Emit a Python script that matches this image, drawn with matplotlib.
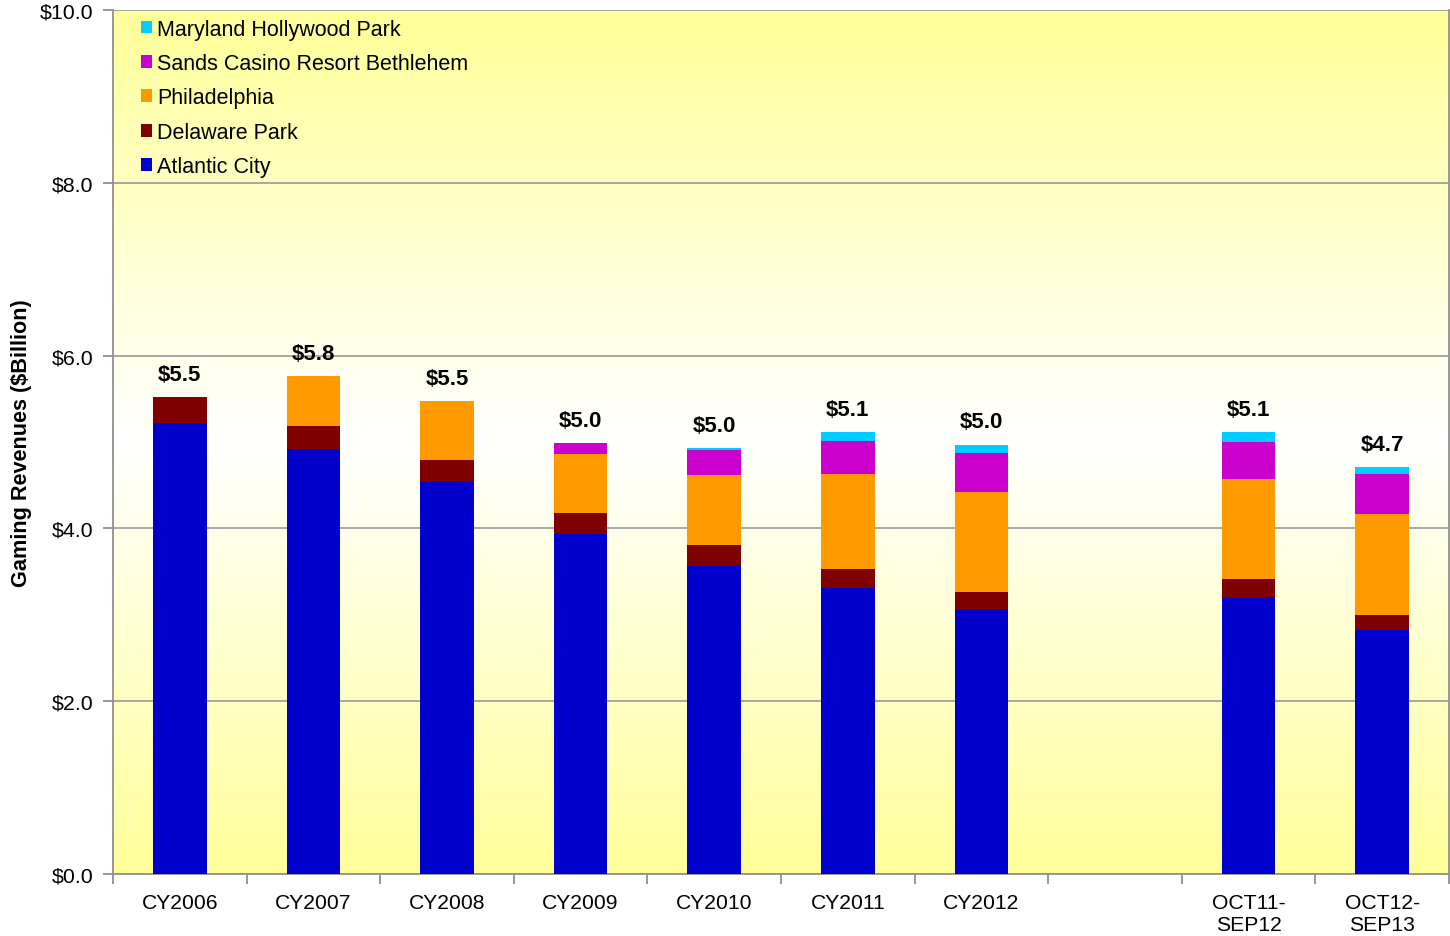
import numpy as np
import matplotlib
matplotlib.use("Agg")
import matplotlib.pyplot as plt
from matplotlib.colors import LinearSegmentedColormap
from matplotlib.patches import Patch

plt.rcParams['font.family'] = ['Liberation Sans', 'DejaVu Sans']

categories = ["CY2006", "CY2007", "CY2008", "CY2009", "CY2010", "CY2011", "CY2012", "",
              "OCT11-\nSEP12", "OCT12-\nSEP13"]
series_names = ["Atlantic City", "Delaware Park", "Philadelphia",
                "Sands Casino Resort Bethlehem", "Maryland Hollywood Park"]
atlantic_city = [5.22, 4.92, 4.54, 3.94, 3.56, 3.31, 3.06, 0, 3.19, 2.82]
delaware_park = [0.30, 0.27, 0.25, 0.24, 0.25, 0.22, 0.20, 0, 0.22, 0.18]
philadelphia = [0.00, 0.57, 0.68, 0.68, 0.81, 1.10, 1.16, 0, 1.16, 1.17]
sands = [0.00, 0.00, 0.00, 0.13, 0.29, 0.38, 0.45, 0, 0.43, 0.46]
maryland = [0.00, 0.00, 0.00, 0.00, 0.02, 0.11, 0.10, 0, 0.12, 0.08]
total_labels = ["$5.5", "$5.8", "$5.5", "$5.0", "$5.0", "$5.1", "$5.0", "", "$5.1", "$4.7"]
yticks = [0, 2, 4, 6, 8, 10]
ytick_labels = ["$0.0", "$2.0", "$4.0", "$6.0", "$8.0", "$10.0"]

colors = ["#0000CC", "#800000", "#FF9900", "#CC00CC", "#00CCFF"]
series = [atlantic_city, delaware_park, philadelphia, sands, maryland]

fig = plt.figure(figsize=(14.5, 9.37), dpi=100)
ax = fig.add_axes([113/1450, 1 - 875/937, (1449 - 113)/1450, (875 - 11)/937])

# gradient background: yellow - white - yellow
cmap = LinearSegmentedColormap.from_list("bg", [(0, "#FFFF99"), (0.5, "#FFFFFF"), (1, "#FFFF99")])
grad = np.linspace(0, 1, 256).reshape(-1, 1)
ax.imshow(grad, aspect='auto', cmap=cmap, extent=[0, 1, 0, 1], transform=ax.transAxes,
          zorder=0, origin='upper')

x = np.arange(len(categories))
bottom = np.zeros(len(categories))
for vals, col in zip(series, colors):
    v = np.array(vals)
    ax.bar(x, v, 0.4, bottom=bottom, color=col, zorder=3, edgecolor='none')
    bottom = bottom + v

for xi, tot, lab in zip(x, bottom, total_labels):
    if lab:
        ax.text(xi, tot + 0.14, lab, ha='center', va='bottom', fontsize=16, fontweight='bold', zorder=4)

ax.set_xlim(-0.5, len(categories) - 0.5)
ax.set_ylim(0, 10)
ax.set_yticks(yticks)
ax.set_yticklabels(ytick_labels, fontsize=15.4)
ax.yaxis.grid(True, color='#A0A0A0', linewidth=1.3, zorder=1)
ax.set_axisbelow(True)

ax.set_xticks(x)
ax.set_xticklabels(categories, fontsize=15.2, linespacing=1.2)
ax.set_xticks(np.arange(-0.5, len(categories)), minor=True)
ax.tick_params(axis='x', which='major', length=0, pad=14)
ax.tick_params(axis='x', which='minor', length=7, color='#909090', width=1.3)
ax.tick_params(axis='y', length=7, color='#909090', width=1.3, pad=7)

for s in ['left', 'bottom', 'top', 'right']:
    ax.spines[s].set_color('#909090')
    ax.spines[s].set_linewidth(1.3)
ax.spines['top'].set_visible(False)

ax.set_ylabel("Gaming Revenues ($Billion)", fontsize=15.6, fontweight='bold', labelpad=6)

handles = [Patch(facecolor=c, edgecolor='none') for c in colors][::-1]
labels = series_names[::-1]
ax.legend(handles, labels, loc='upper left', bbox_to_anchor=(132/1450, 1 - 11/937),
          bbox_transform=fig.transFigure, frameon=False, fontsize=15.5,
          handlelength=0.55, handleheight=0.55, handletextpad=0.2, labelspacing=0.62,
          borderaxespad=0)

fig.savefig("out.png", dpi=100)
